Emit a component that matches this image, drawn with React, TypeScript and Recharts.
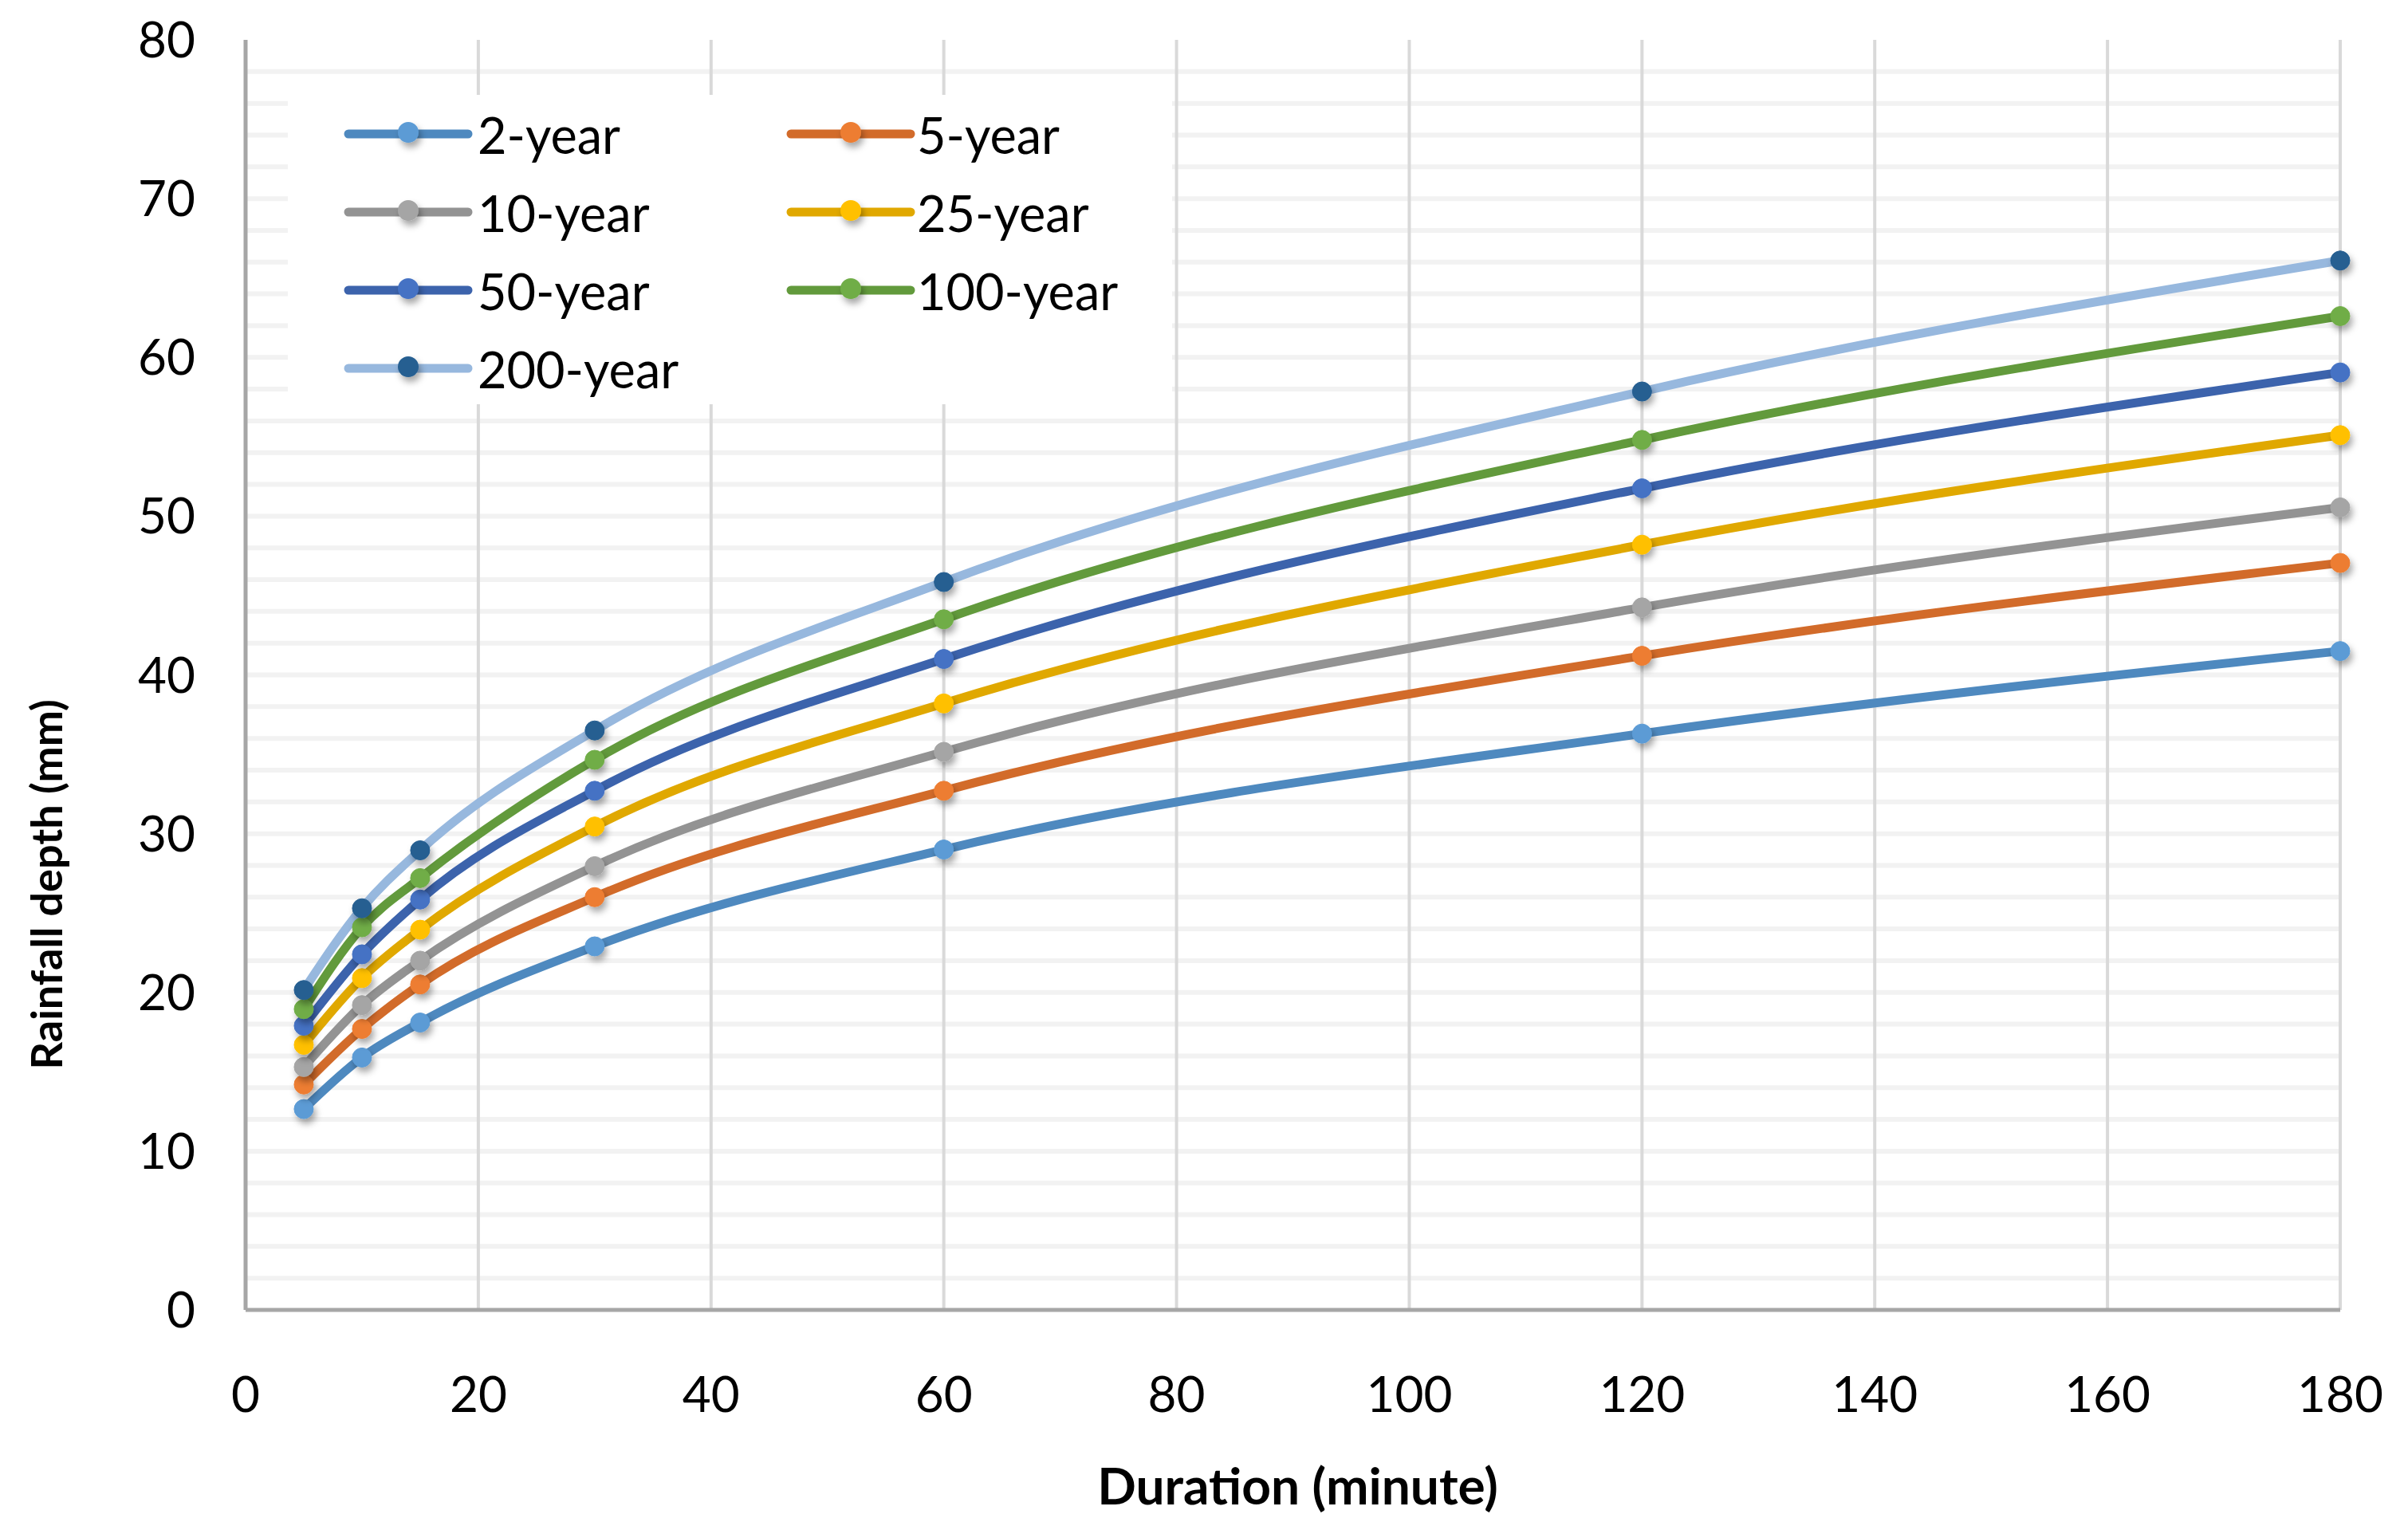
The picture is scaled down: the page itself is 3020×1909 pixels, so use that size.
import React from "react";
import {
  LineChart,
  Line,
  XAxis,
  YAxis,
  CartesianGrid,
  Legend,
} from "recharts";

// ---- data ----
const durations = [5, 10, 15, 30, 60, 120, 180];
const depth2 = [12.65, 15.9, 18.1, 22.9, 29.0, 36.3, 41.5];
const depth5 = [14.2, 17.7, 20.5, 26.0, 32.7, 41.2, 47.05];
const depth10 = [15.3, 19.2, 22.0, 27.95, 35.15, 44.25, 50.55];
const depth25 = [16.7, 20.9, 23.95, 30.45, 38.2, 48.2, 55.1];
const depth50 = [17.9, 22.4, 25.85, 32.7, 41.0, 51.75, 59.05];
const depth100 = [18.95, 24.1, 27.2, 34.65, 43.5, 54.8, 62.6];
const depth200 = [20.15, 25.3, 28.95, 36.5, 45.85, 57.85, 66.1];

const seriesNames = ["2-year", "5-year", "10-year", "25-year", "50-year", "100-year", "200-year"];
const seriesValues = [depth2, depth5, depth10, depth25, depth50, depth100, depth200];

const xTicks = [0, 20, 40, 60, 80, 100, 120, 140, 160, 180];
const yTicks = [0, 10, 20, 30, 40, 50, 60, 70, 80];
const yMinorGrid = [2, 4, 6, 8, 10, 12, 14, 16, 18, 20, 22, 24, 26, 28, 30, 32, 34, 36, 38, 40, 42, 44, 46, 48, 50, 52, 54, 56, 58, 60, 62, 64, 66, 68, 70, 72, 74, 76, 78];

// ---- styles ----
const lineColors = ["#4e89bf", "#d26b2a", "#939393", "#e0a800", "#3c63ac", "#629a3c", "#97b8de"];
const markerColors = ["#5b9bd5", "#ed7d31", "#a5a5a5", "#ffc000", "#4472c4", "#70ad47", "#255e91"];

const FONT = "Lato, 'Open Sans', sans-serif";

const tableData = durations.map((d, i) => {
  const row: Record<string, number> = { duration: d };
  seriesNames.forEach((n, s) => {
    row[n] = seriesValues[s][i];
  });
  return row;
});

const makeDot = (color: string) => (p: any) => {
  if (p.cx == null || p.cy == null) return <g key={p.key} />;
  return (
    <circle
      key={p.key}
      cx={p.cx}
      cy={p.cy}
      r={12}
      fill={color}
      stroke={color}
      strokeWidth={1}
      filter="url(#mkShadow)"
    />
  );
};

const renderLegend = () => {
  const rowY = [49, 147, 245, 343];
  const colX = [76, 631];
  const colText = [238, 789];
  return (
    <svg width={1109} height={388} style={{ display: "block" }}>
      {seriesNames.map((name, idx) => {
        const r = Math.floor(idx / 2);
        const c = idx % 2;
        const y = rowY[r];
        const x0 = colX[c];
        return (
          <g key={name}>
            <line
              x1={x0}
              x2={x0 + 150}
              y1={y}
              y2={y}
              stroke={lineColors[idx]}
              strokeWidth={11}
              strokeLinecap="round"
            />
            <circle cx={x0 + 75} cy={y - 2} r={13} fill={markerColors[idx]} filter="url(#mkShadow)" />
            <text
              x={colText[c]}
              y={y}
              dominantBaseline="central"
              fontFamily={FONT}
              fontSize={63}
              fill="#000"
            >
              {name}
            </text>
          </g>
        );
      })}
    </svg>
  );
};

export default function App() {
  return (
    <div style={{ position: "relative", width: 3020, height: 1909, background: "#fff" }}>
      <style>{"body{margin:0;background:#fff;}"}</style>
      <svg width={0} height={0} style={{ position: "absolute" }}>
        <defs>
          <filter id="mkShadow" x="-100%" y="-100%" width="300%" height="300%">
            <feDropShadow dx="3" dy="6" stdDeviation="4" floodColor="#000" floodOpacity="0.35" />
          </filter>
        </defs>
      </svg>
      <LineChart
        width={3020}
        height={1909}
        data={tableData}
        margin={{ top: 50, right: 85, bottom: 0, left: 0 }}
      >
        <CartesianGrid
          horizontal={true}
          vertical={false}
          horizontalValues={yMinorGrid}
          stroke="#f2f2f2"
          strokeWidth={6}
        />
        <CartesianGrid
          horizontal={false}
          vertical={true}
          verticalValues={xTicks}
          stroke="#d9d9d9"
          strokeWidth={4}
        />
        <XAxis
          dataKey="duration"
          type="number"
          domain={[0, 180]}
          ticks={xTicks}
          height={266}
          tickLine={false}
          tickSize={0}
          tickMargin={84}
          axisLine={{ stroke: "#a6a6a6", strokeWidth: 5 }}
          tick={{ fontFamily: FONT, fontSize: 62, fill: "#000" }}
          label={{
            content: (lp: any) => {
              const vb = lp.viewBox || {};
              return (
                <text
                  x={vb.x + vb.width / 2 + 6}
                  y={vb.y + 244}
                  textAnchor="middle"
                  fontFamily={FONT}
                  fontWeight={700}
                  fontSize={64}
                  fill="#000"
                >
                  Duration (minute)
                </text>
              );
            },
          }}
        />
        <XAxis
          xAxisId="top"
          dataKey="duration"
          type="number"
          domain={[0, 180]}
          ticks={xTicks}
          orientation="top"
          height={0}
          tick={false}
          tickLine={false}
          axisLine={{ stroke: "#a6a6a6", strokeWidth: 5 }}
        />
        <YAxis
          type="number"
          domain={[0, 80]}
          ticks={yTicks}
          width={308}
          tickLine={false}
          tickSize={0}
          tickMargin={63}
          axisLine={{ stroke: "#a6a6a6", strokeWidth: 5 }}
          tick={{ fontFamily: FONT, fontSize: 62, fill: "#000" }}
          label={{
            content: (lp: any) => {
              const vb = lp.viewBox || {};
              const cx = vb.x + 58;
              const cy = vb.y + vb.height * 0.665;
              return (
                <text
                  x={cx}
                  y={cy}
                  transform={`rotate(-90, ${cx}, ${cy})`}
                  textAnchor="middle"
                  dominantBaseline="central"
                  fontFamily={FONT}
                  fontWeight={700}
                  fontSize={54}
                  fill="#000"
                >
                  Rainfall  depth (mm)
                </text>
              );
            },
          }}
        />
        <YAxis
          yAxisId="right"
          orientation="right"
          type="number"
          domain={[0, 80]}
          ticks={yTicks}
          width={0}
          tick={false}
          tickLine={false}
          axisLine={{ stroke: "#a6a6a6", strokeWidth: 5 }}
        />
        <Legend
          layout="horizontal"
          verticalAlign="middle"
          align="center"
          content={renderLegend}
          wrapperStyle={{
            left: 361,
            top: 119,
            width: 1109,
            height: 388,
            background: "#fff",
          }}
        />
        {seriesNames.map((name, i) => (
          <Line
            key={name}
            type="monotone"
            dataKey={name}
            name={name}
            stroke={lineColors[i]}
            strokeWidth={11}
            dot={makeDot(markerColors[i])}
            activeDot={false}
            isAnimationActive={false}
          />
        ))}
      </LineChart>
    </div>
  );
}
